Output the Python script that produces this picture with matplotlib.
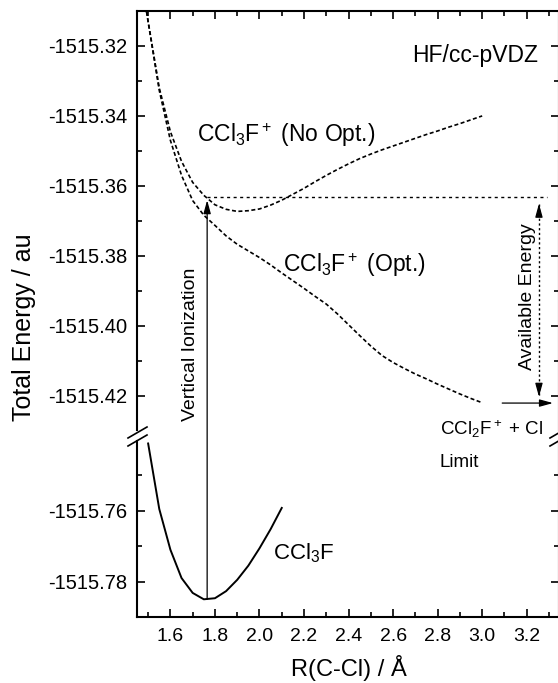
import numpy as np
import matplotlib
matplotlib.use("Agg")
import matplotlib.pyplot as plt
from matplotlib.ticker import MultipleLocator, FormatStrFormatter
from matplotlib.lines import Line2D

plt.rcParams['font.family'] = ['Liberation Sans', 'DejaVu Sans']
plt.rcParams['mathtext.fontset'] = 'custom'
plt.rcParams['mathtext.rm'] = 'Liberation Sans'
plt.rcParams['mathtext.it'] = 'Liberation Sans:italic'
plt.rcParams['mathtext.default'] = 'regular'
plt.rcParams['axes.unicode_minus'] = False

# --- donnees ---
# molecule neutre CCl3F
r_neutral = [1.50, 1.55, 1.60, 1.65, 1.70, 1.75, 1.80, 1.85, 1.90, 1.95, 2.00, 2.05, 2.10]
e_neutral = [-1515.7410, -1515.7595, -1515.7710, -1515.7790, -1515.7832, -1515.7850,
             -1515.7847, -1515.7827, -1515.7795, -1515.7755, -1515.7706, -1515.7652, -1515.7592]

# ion CCl3F+
r_ion = [1.48, 1.50, 1.55, 1.60, 1.65, 1.70, 1.75, 1.80, 1.85, 1.90, 1.95, 2.00,
         2.05, 2.10, 2.15, 2.20, 2.25, 2.30, 2.35, 2.40, 2.45, 2.50, 2.55, 2.60,
         2.65, 2.70, 2.75, 2.80, 2.85, 2.90, 2.95, 3.00]
e_noopt = [-1515.3050, -1515.3130, -1515.3320, -1515.3445, -1515.3530, -1515.3590,
           -1515.3627, -1515.3654, -1515.3667, -1515.3673, -1515.3671, -1515.3666,
           -1515.3655, -1515.3641, -1515.3624, -1515.3607, -1515.3588, -1515.3570,
           -1515.3553, -1515.3537, -1515.3522, -1515.3509, -1515.3497, -1515.3486,
           -1515.3475, -1515.3464, -1515.3453, -1515.3443, -1515.3432, -1515.3422,
           -1515.3411, -1515.3400]
e_opt = [-1515.3050, -1515.3131, -1515.3327, -1515.3470, -1515.3570, -1515.3642,
         -1515.3684, -1515.3713, -1515.3743, -1515.3767, -1515.3786, -1515.3805,
         -1515.3826, -1515.3849, -1515.3871, -1515.3893, -1515.3916, -1515.3938,
         -1515.3966, -1515.3997, -1515.4028, -1515.4058, -1515.4085, -1515.4105,
         -1515.4122, -1515.4138, -1515.4152, -1515.4167, -1515.4181, -1515.4195,
         -1515.4208, -1515.4220]

r_vert = 1.765          # ionisation verticale
e_vert_top = -1515.3633
e_vert_bot = -1515.7850
r_hline_end = 3.29
e_limit = -1515.4221    # limite CCl2F+ + Cl
r_limit = [3.09, 3.318]
r_avail = 3.255

ylim_top = (-1515.4298, -1515.31)
ylim_bot = (-1515.79, -1515.7403)
xlim = (1.45, 3.345)

W, H = 558, 683
fig = plt.figure(figsize=(W / 100, H / 100), dpi=100)

def px(x, y):
    return x / W, 1 - y / H

# l'axe du bas d'abord pour que le haut (fleche, textes) passe par-dessus
ax_bot = fig.add_axes([137 / W, 1 - 617 / H, 422 / W, 176 / H])
ax_top = fig.add_axes([137 / W, 1 - 430 / H, 422 / W, 419 / H])
ax_top.patch.set_visible(False)

for ax in (ax_top, ax_bot):
    ax.set_xlim(*xlim)
    ax.xaxis.set_major_locator(MultipleLocator(0.2))
    ax.xaxis.set_minor_locator(MultipleLocator(0.1))
    ax.yaxis.set_major_locator(MultipleLocator(0.02))
    ax.yaxis.set_minor_locator(MultipleLocator(0.01))
    ax.yaxis.set_major_formatter(FormatStrFormatter('%.2f'))
    ax.xaxis.set_major_formatter(FormatStrFormatter('%.1f'))
    for s in ax.spines.values():
        s.set_linewidth(1.5)
    ax.tick_params(which='major', direction='in', length=6, width=1.2, labelsize=14.5, pad=7)
    ax.tick_params(which='minor', direction='in', length=3.3, width=1.2)
    ax.tick_params(axis='y', left=True, right=True, which='both')

ax_top.set_ylim(*ylim_top)
ax_bot.set_ylim(*ylim_bot)
ax_top.spines['bottom'].set_visible(False)
ax_bot.spines['top'].set_visible(False)
ax_top.tick_params(axis='x', which='both', top=True, bottom=False, labelbottom=False)
ax_bot.tick_params(axis='x', which='both', top=False, bottom=True, pad=8, labelsize=14)

# courbes
ax_bot.plot(r_neutral, e_neutral, color='k', lw=1.4)
ax_top.plot(r_ion, e_noopt, color='k', lw=1.2, linestyle=(0, (2.4, 1.5)))
ax_top.plot(r_ion, e_opt, color='k', lw=1.2, linestyle=(0, (2.4, 1.5)))

# ligne horizontale pointillee
ax_top.plot([r_vert, r_hline_end], [e_vert_top, e_vert_top], color='k', lw=1.0,
            linestyle=(0, (2.2, 2.5)))

# fleche d'ionisation verticale (traverse la coupure)
ax_top.annotate('', xy=(r_vert, e_vert_top), xycoords='data',
                xytext=(r_vert, e_vert_bot), textcoords=ax_bot.transData,
                arrowprops=dict(arrowstyle='-|>,head_length=0.8,head_width=0.22',
                                color='k', lw=0.9, shrinkA=0, shrinkB=2,
                                mutation_scale=10),
                annotation_clip=False)

# energie disponible
ax_top.plot([r_avail, r_avail], [e_vert_top - 0.002, e_limit + 0.002], color='k', lw=1.0,
            linestyle=(0, (1.6, 1.8)))
ax_top.annotate('', xy=(r_avail, e_vert_top - 0.0018), xytext=(r_avail, e_vert_top - 0.004),
                arrowprops=dict(arrowstyle='-|>,head_length=0.8,head_width=0.22',
                                color='k', lw=0.9, shrinkA=0, shrinkB=0, mutation_scale=10))
ax_top.annotate('', xy=(r_avail, e_limit + 0.0018), xytext=(r_avail, e_limit + 0.004),
                arrowprops=dict(arrowstyle='-|>,head_length=0.8,head_width=0.22',
                                color='k', lw=0.9, shrinkA=0, shrinkB=0, mutation_scale=10))

# limite CCl2F+ + Cl
ax_top.annotate('', xy=(r_limit[1], e_limit), xytext=(r_limit[0], e_limit),
                arrowprops=dict(arrowstyle='-|>,head_length=0.8,head_width=0.22',
                                color='k', lw=0.9, shrinkA=0, shrinkB=0, mutation_scale=10),
                annotation_clip=False)

# textes
ax_top.text(1.72, -1515.3474, r'$\mathregular{CCl_3F^+}$ (No Opt.)', fontsize=16.5,
            ha='left', va='baseline')
ax_top.text(2.105, -1515.3845, r'$\mathregular{CCl_3F^+}$ (Opt.)', fontsize=16.5,
            ha='left', va='baseline')
ax_bot.text(2.06, -1515.7737, r'$\mathregular{CCl_3F}$', fontsize=16, ha='left', va='baseline')
ax_top.text(3.25, -1515.3246, 'HF/cc-pVDZ', fontsize=16.5, ha='right', va='baseline')
ax_top.text(2.81, -1515.4312, r'$\mathregular{CCl_2F^+}$ + Cl', fontsize=13.5,
            ha='left', va='baseline')
ax_top.text(2.81, -1515.4404, 'Limit', fontsize=13.5, ha='left', va='baseline')
ax_top.text(1.692, -1515.4054, 'Vertical Ionization', fontsize=14, rotation=90,
            ha='center', va='center')
ax_top.text(3.202, -1515.3917, 'Available Energy', fontsize=14, rotation=90,
            ha='center', va='center')

ax_bot.set_xlabel('R(C-Cl) / Å', fontsize=17)
ax_bot.xaxis.set_label_coords(0.503, -0.29)
ax_bot.xaxis.label.set_va('center')
ax_top.set_ylabel('Total Energy / au', fontsize=18)
ax_top.yaxis.set_label_coords(-0.268, 0.245)
ax_top.yaxis.label.set_va('center')

# marques de coupure
for x0 in (128, 550):
    for dy in (0, 8):
        fig.add_artist(Line2D([px(x0, 0)[0], px(x0 + 19, 0)[0]],
                              [px(0, 438 + dy)[1], px(0, 427 + dy)[1]],
                              color='k', lw=1.2, transform=fig.transFigure))

fig.savefig('out.png', dpi=100)
